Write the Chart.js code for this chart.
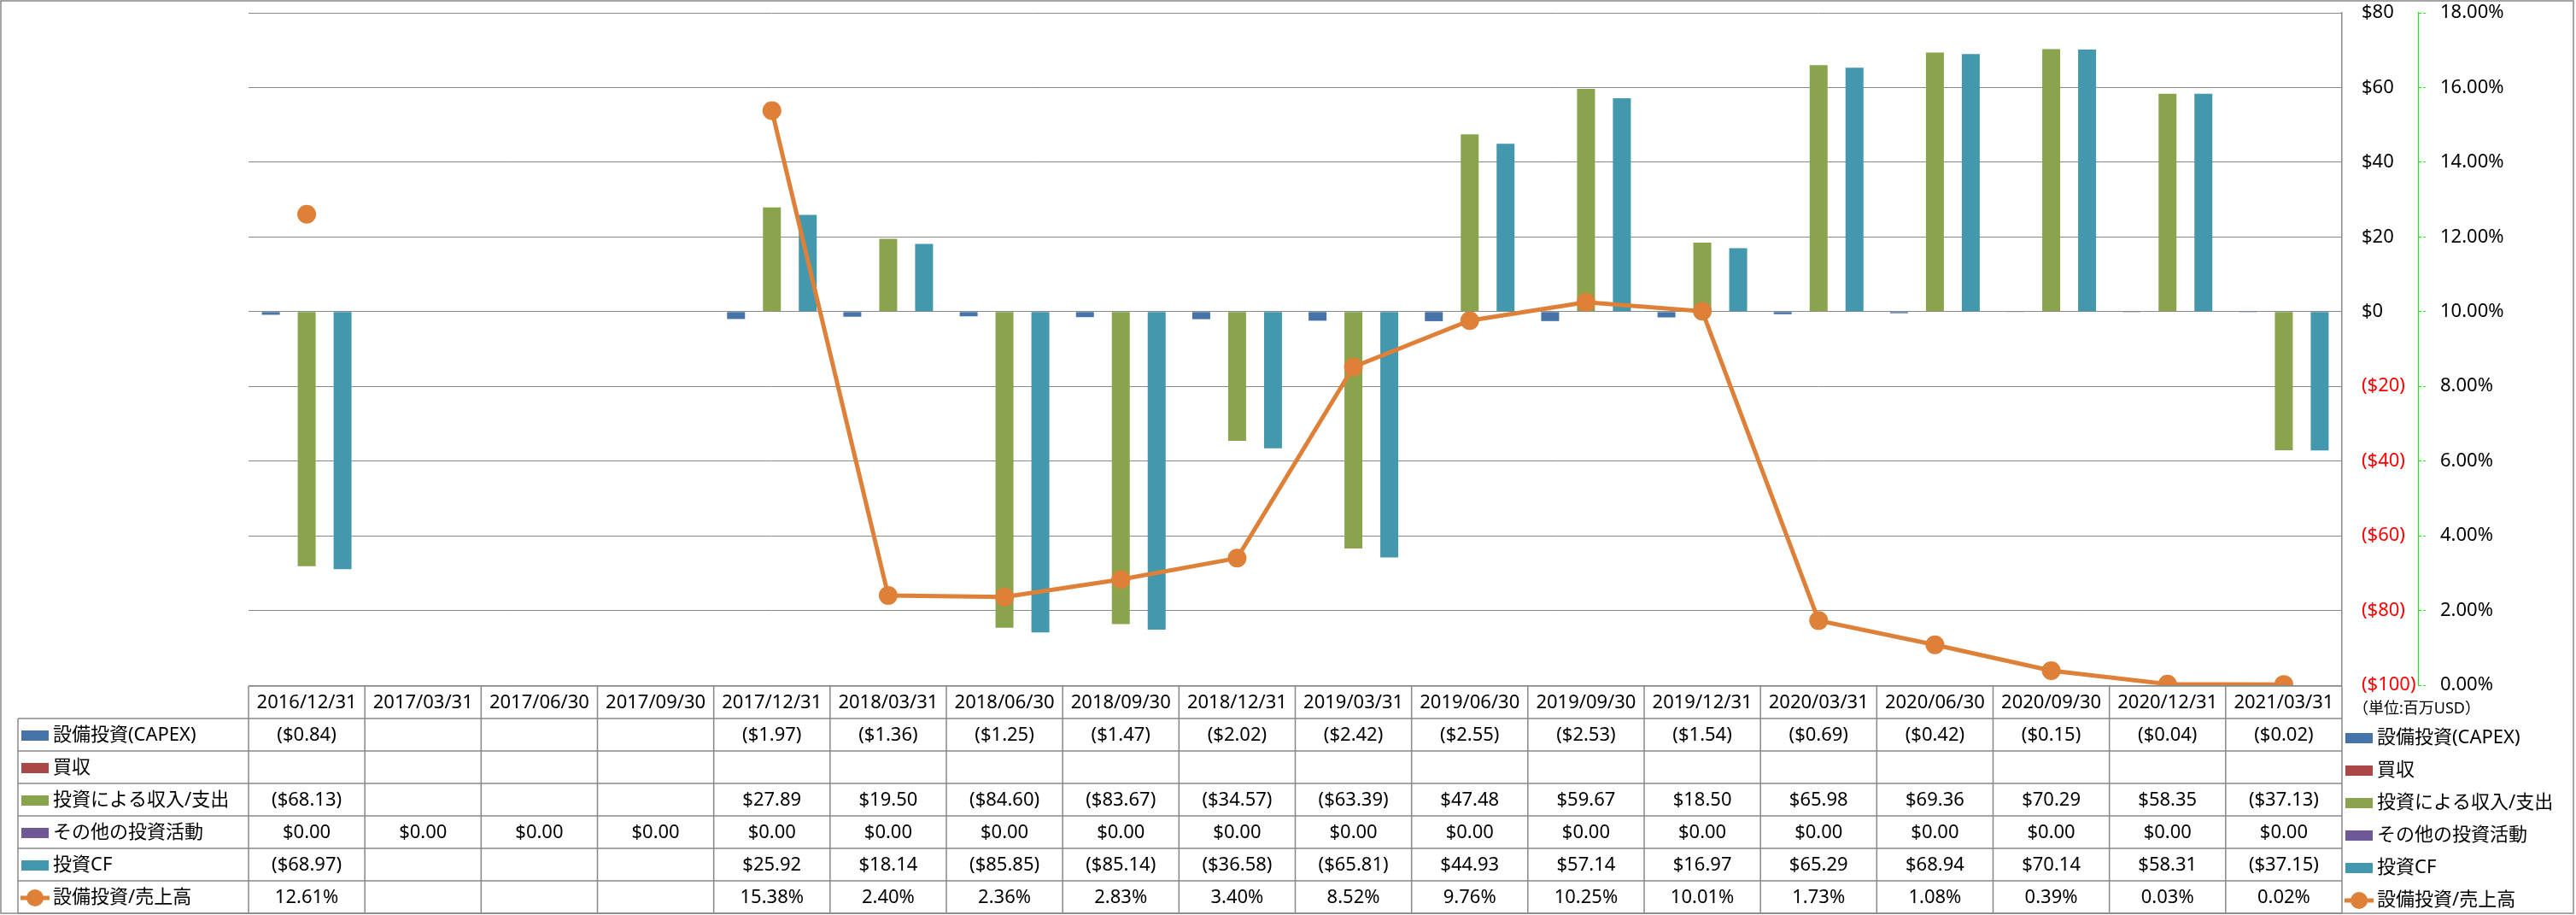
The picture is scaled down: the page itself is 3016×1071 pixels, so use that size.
<!DOCTYPE html>
<html>
<head>
<meta charset="utf-8">
<script src="https://cdn.jsdelivr.net/npm/chart.js@4.4.0/dist/chart.umd.min.js"></script>
<style>
  html, body { margin: 0; padding: 0; background: #fff; }
  #wrap { width: 3016px; height: 1071px; }
</style>
</head>
<body>
<div id="wrap"><canvas id="chart" width="3016" height="1071"></canvas></div>
<script>
// quarter end dates (categories)
const dates = ['2016/12/31', '2017/03/31', '2017/06/30', '2017/09/30', '2017/12/31', '2018/03/31',
  '2018/06/30', '2018/09/30', '2018/12/31', '2019/03/31', '2019/06/30', '2019/09/30',
  '2019/12/31', '2020/03/31', '2020/06/30', '2020/09/30', '2020/12/31', '2021/03/31'];

// millions USD
const capex = [-0.84, null, null, null, -1.97, -1.36, -1.25, -1.47, -2.02, -2.42, -2.55, -2.53, -1.54, -0.69, -0.42, -0.15, -0.04, -0.02];
const acquisition = [null, null, null, null, null, null, null, null, null, null, null, null, null, null, null, null, null, null];
const investIO = [-68.13, null, null, null, 27.89, 19.50, -84.60, -83.67, -34.57, -63.39, 47.48, 59.67, 18.50, 65.98, 69.36, 70.29, 58.35, -37.13];
const otherInvest = [0, 0, 0, 0, 0, 0, 0, 0, 0, 0, 0, 0, 0, 0, 0, 0, 0, 0];
const investCF = [-68.97, null, null, null, 25.92, 18.14, -85.85, -85.14, -36.58, -65.81, 44.93, 57.14, 16.97, 65.29, 68.94, 70.14, 58.31, -37.15];
// percent
const capexRatio = [12.61, null, null, null, 15.38, 2.40, 2.36, 2.83, 3.40, 8.52, 9.76, 10.25, 10.01, 1.73, 1.08, 0.39, 0.03, 0.02];

const seriesNames = ['設備投資(CAPEX)', '買収', '投資による収入/支出', 'その他の投資活動', '投資CF', '設備投資/売上高'];
const unitLabel = '（単位:百万USD）';
const dollarTicks = [-100, -80, -60, -40, -20, 0, 20, 40, 60, 80];
const percentTicks = [0, 2, 4, 6, 8, 10, 12, 14, 16, 18];

const colors = ['#4673A8', '#A94846', '#8AA44E', '#6E5895', '#4398AE', '#DE8038'];
const FONT = '"Noto Sans", "Noto Sans CJK JP", sans-serif';
const GRID = '#888888';

function money(v) {
  if (v === null) return '';
  return v < 0 ? '($' + Math.abs(v).toFixed(2) + ')' : '$' + v.toFixed(2);
}
function pct(v) {
  return v === null ? '' : v.toFixed(2) + '%';
}

function drawKey(ctx, i, x, y) {
  if (i === 5) {
    ctx.strokeStyle = colors[5];
    ctx.lineWidth = 5;
    ctx.beginPath(); ctx.moveTo(x - 1, y); ctx.lineTo(x + 33, y); ctx.stroke();
    ctx.fillStyle = colors[5];
    ctx.beginPath(); ctx.arc(x + 16, y, 10, 0, Math.PI * 2); ctx.fill();
  } else {
    ctx.fillStyle = colors[i];
    ctx.fillRect(x, y - 6, 32, 12);
  }
}

// data table under the plot, columns follow the x scale
const tablePlugin = {
  id: 'dataTable',
  afterDraw(chart) {
    const ctx = chart.ctx;
    const area = chart.chartArea;
    const xs = chart.scales.x;
    const n = dates.length;
    const colW = (area.right - area.left) / n;
    const headTop = 803, rowTop = 841, rowH = 38, labelLeft = 21;
    const rows = [capex, acquisition, investIO, otherInvest, investCF, capexRatio];
    const bottom = rowTop + rows.length * rowH;

    ctx.save();
    ctx.strokeStyle = GRID;
    ctx.lineWidth = 1.5;
    const line = (x1, y1, x2, y2) => { ctx.beginPath(); ctx.moveTo(x1, y1); ctx.lineTo(x2, y2); ctx.stroke(); };
    line(area.left, headTop, area.right, headTop);
    for (let r = 0; r <= rows.length; r++) line(labelLeft, rowTop + r * rowH, area.right, rowTop + r * rowH);
    line(labelLeft, rowTop, labelLeft, bottom);
    for (let i = 0; i <= n; i++) {
      const x = area.left + i * colW;
      line(x, headTop, x, bottom);
    }

    ctx.fillStyle = '#000';
    ctx.font = '22px ' + FONT;
    ctx.textAlign = 'center';
    ctx.textBaseline = 'middle';
    dates.forEach((d, i) => ctx.fillText(d, xs.getPixelForValue(i), headTop + rowH / 2 + 1));
    rows.forEach((vals, r) => {
      const y = rowTop + r * rowH + rowH / 2 + 1;
      vals.forEach((v, i) => {
        ctx.fillStyle = '#000';
        ctx.fillText(r === 5 ? pct(v) : money(v), xs.getPixelForValue(i), y);
      });
    });

    // row labels, left and right
    ctx.textAlign = 'left';
    seriesNames.forEach((name, r) => {
      const y = rowTop + r * rowH + rowH / 2 + 1;
      drawKey(ctx, r, 25, y);
      ctx.fillStyle = '#000';
      ctx.fillText(name, 62, y);
      const y2 = y + 3;
      drawKey(ctx, r, 2746, y2);
      ctx.fillStyle = '#000';
      ctx.fillText(name, 2783, y2);
    });
    ctx.font = '18px ' + FONT;
    ctx.fillText(unitLabel, 2755, 830);

    // chart border
    ctx.strokeStyle = GRID;
    ctx.lineWidth = 1.5;
    ctx.strokeRect(1, 1, 3012, 1068);
    ctx.restore();
  }
};

const barSets = [capex, acquisition, investIO, otherInvest, investCF].map((d, i) => ({
  type: 'bar',
  label: seriesNames[i],
  data: d,
  backgroundColor: colors[i],
  yAxisID: 'y',
  barPercentage: 1,
  categoryPercentage: 0.771,
  order: 1
}));

new Chart(document.getElementById('chart'), {
  data: {
    labels: dates,
    datasets: [{
      type: 'line',
      label: seriesNames[5],
      data: capexRatio,
      yAxisID: 'y1',
      borderColor: colors[5],
      borderWidth: 5,
      backgroundColor: colors[5],
      pointRadius: 11,
      pointBackgroundColor: colors[5],
      pointBorderWidth: 0,
      tension: 0,
      order: 0
    }].concat(barSets)
  },
  options: {
    responsive: false,
    devicePixelRatio: 1,
    animation: false,
    layout: { padding: { left: 291, top: 15, right: 84, bottom: 269 } },
    plugins: { legend: { display: false }, tooltip: { enabled: false } },
    scales: {
      x: { display: false, offset: true },
      y: {
        position: 'right',
        min: -100, max: 80,
        afterBuildTicks: s => { s.ticks = dollarTicks.map(v => ({ value: v })); },
        afterFit: s => { s.width = 90; },
        grid: { color: GRID, lineWidth: 1, tickLength: 22, tickColor: 'rgba(0,0,0,0)' },
        border: { display: true, color: GRID, width: 1.5 },
        ticks: {
          padding: 1,
          font: { family: FONT, size: 22 },
          color: c => c.tick.value < 0 ? '#FF0000' : '#000000',
          callback: v => v < 0 ? '($' + Math.abs(v) + ')' : '$' + v
        }
      },
      y1: {
        position: 'right',
        min: 0, max: 18,
        afterBuildTicks: s => { s.ticks = percentTicks.map(v => ({ value: v })); },
        afterFit: s => { s.width = 100; },
        grid: { drawOnChartArea: false, color: '#11EE11', tickLength: 24, tickBorderDash: [3, 2, 3, 100] },
        border: { display: true, color: '#11EE11', dash: [4, 3], width: 1.2 },
        ticks: {
          padding: 1,
          font: { family: FONT, size: 22 },
          color: '#000',
          callback: v => v.toFixed(2) + '%'
        }
      }
    }
  },
  plugins: [tablePlugin]
});
</script>
</body>
</html>
